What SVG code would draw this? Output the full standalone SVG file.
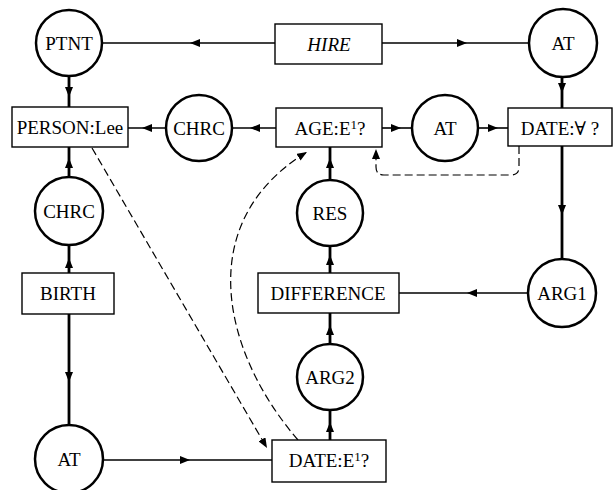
<svg xmlns="http://www.w3.org/2000/svg" xmlns:xlink="http://www.w3.org/1999/xlink" width="614" height="490" viewBox="0 0 614 490">
<style>
  .bg { fill: #ffffff; }
  .circ { fill: #ffffff; stroke: #000; stroke-width: 2.5; }
  .box { fill: #ffffff; stroke: #000; stroke-width: 1.4; }
  .lbl { font-family: "Liberation Serif", "DejaVu Serif", serif; font-size: 19px; fill: #000; text-anchor: middle; }
  .ital { font-style: italic; }
  .sup { font-size: 13px; }
  .thin { fill: none; stroke: #000; stroke-width: 1.6; marker-mid: url(#ah); }
  .thick { fill: none; stroke: #000; stroke-width: 2.8; marker-mid: url(#ah); }
  .dash { fill: none; stroke: #000; stroke-width: 1.2; stroke-dasharray: 8 4; marker-end: url(#ah); }
</style>
<defs>
  <marker id="ah" markerUnits="userSpaceOnUse" viewBox="0 0 10 8" refX="10" refY="4" markerWidth="10" markerHeight="8" orient="auto">
    <path d="M0,0 L10,4 L0,8 Z" fill="#000"/>
  </marker>
</defs>
<rect class="bg" x="0" y="0" width="614" height="490"/>

<g id="connectors">
  <path class="thin" d="M275,43 L190,43 L102,43"/>
  <path class="thin" d="M382,43 L467,43 L529,43"/>
  <path class="thick" d="M69,76 L69,97 L69,107"/>
  <path class="thin" d="M276,128 L250,128 L232,128"/>
  <path class="thin" d="M166,128 L142,128 L128,128"/>
  <path class="thin" d="M382,128 L401,128 L412,128"/>
  <path class="thin" d="M478,128 L498,128 L508,128"/>
  <path class="thick" d="M562,77 L562,93 L562,108"/>
  <path class="thick" d="M562,146 L562,215 L562,259"/>
  <path class="thin" d="M528,293 L467,293 L399,293"/>
  <path class="thick" d="M330,273 L330,255 L330,246"/>
  <path class="thick" d="M330,180 L330,158 L330,147"/>
  <path class="thick" d="M330,344 L330,325 L330,313"/>
  <path class="thick" d="M330,440 L330,422 L330,410"/>
  <path class="thick" d="M69,177 L69,158 L69,147"/>
  <path class="thick" d="M69,273 L69,258 L69,245"/>
  <path class="thick" d="M69,314 L69,382 L69,425"/>
  <path class="thin" d="M103,460 L190,460 L272,460"/>
  <path class="dash" d="M92,148 L267,448"/>
  <path class="dash" d="M298,440 C222,352 192,222 307,152"/>
  <path class="dash" d="M519,146 L519,167 Q519,175 511,175 L384,175 Q376,175 376,167 L376,149"/>
</g>

<g id="ptnt"><circle class="circ" cx="69" cy="43" r="33"/><text class="lbl" x="69" y="49.5">PTNT</text></g>
<g id="hire"><rect class="box" x="275" y="24" width="107" height="40"/><text class="lbl ital" x="329" y="50.5">HIRE</text></g>
<g id="at1"><circle class="circ" cx="563" cy="43" r="34"/><text class="lbl" x="563" y="49.5">AT</text></g>

<g id="person"><rect class="box" x="12" y="107" width="116" height="40"/><text class="lbl" x="70" y="133.5">PERSON:Lee</text></g>
<g id="chrc1"><circle class="circ" cx="199" cy="128" r="33"/><text class="lbl" x="199" y="134.5">CHRC</text></g>
<g id="age"><rect class="box" x="276" y="108" width="106" height="39"/><text class="lbl" x="330" y="134.5">AGE:E<tspan class="sup" dy="-6">1</tspan><tspan dy="6">?</tspan></text></g>
<g id="at2"><circle class="circ" cx="445" cy="128" r="33"/><text class="lbl" x="445" y="134.5">AT</text></g>
<g id="dateall"><rect class="box" x="508" y="108" width="104" height="38"/><text class="lbl" x="560" y="134.5">DATE:∀ ?</text></g>

<g id="chrc2"><circle class="circ" cx="69" cy="211" r="34"/><text class="lbl" x="69" y="217.5">CHRC</text></g>
<g id="res"><circle class="circ" cx="330" cy="213" r="33"/><text class="lbl" x="330" y="219.5">RES</text></g>

<g id="birth"><rect class="box" x="22" y="273" width="92" height="41"/><text class="lbl" x="68" y="300">BIRTH</text></g>
<g id="difference"><rect class="box" x="258" y="273" width="141" height="40"/><text class="lbl" x="328" y="299.5">DIFFERENCE</text></g>
<g id="arg1"><circle class="circ" cx="562" cy="293" r="34"/><text class="lbl" x="562" y="299.5">ARG1</text></g>

<g id="arg2"><circle class="circ" cx="330" cy="377" r="33"/><text class="lbl" x="330" y="383.5">ARG2</text></g>
<g id="at3"><circle class="circ" cx="69" cy="459" r="34"/><text class="lbl" x="69" y="465.5">AT</text></g>
<g id="datee"><rect class="box" x="272" y="440" width="114" height="42"/><text class="lbl" x="329" y="467">DATE:E<tspan class="sup" dy="-6">1</tspan><tspan dy="6">?</tspan></text></g>
</svg>
